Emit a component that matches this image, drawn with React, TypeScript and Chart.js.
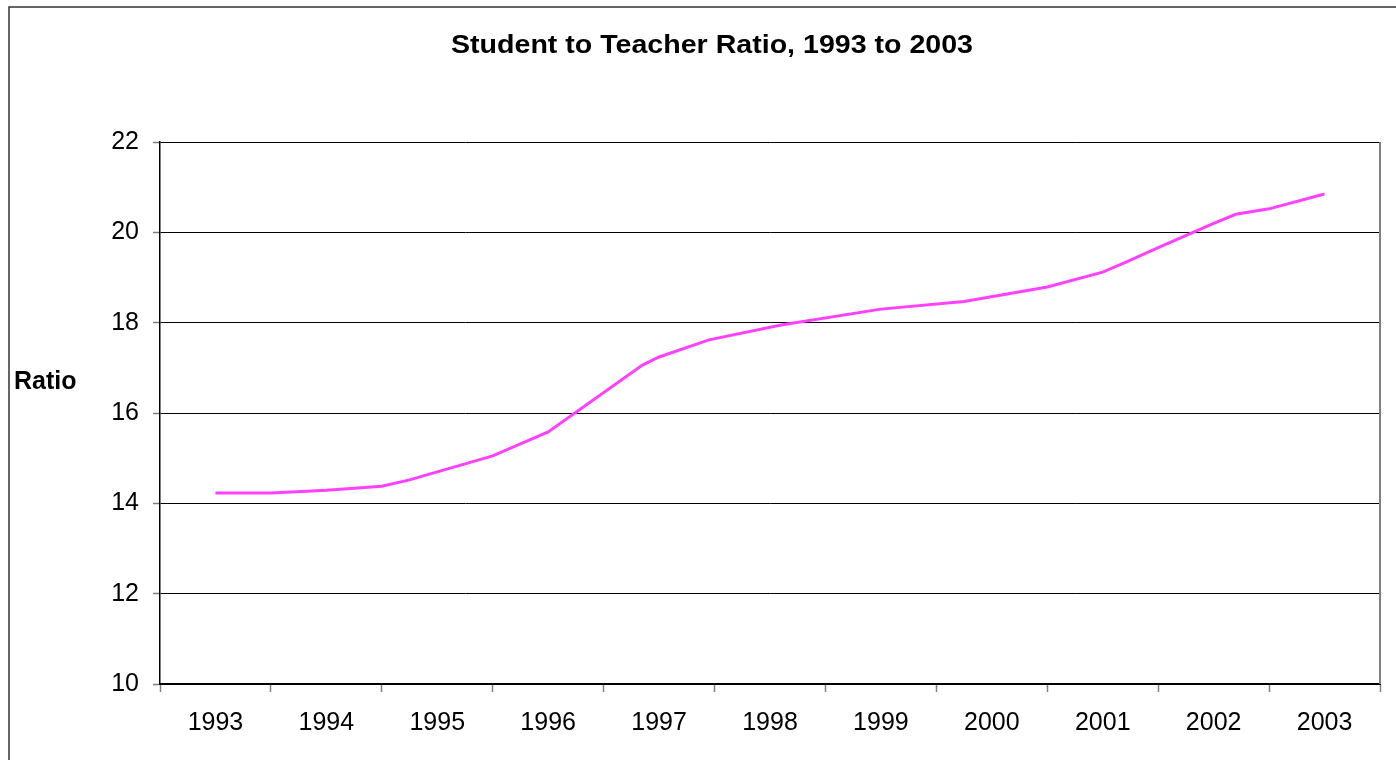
import React, { useEffect, useRef } from "react";
import { Chart, registerables } from "chart.js";

Chart.register(...registerables);

const titleText = "Student to Teacher Ratio, 1993 to 2003";
const yAxisTitle = "Ratio";
const yearLabels = [1993, 1994, 1995, 1996, 1997, 1998, 1999, 2000, 2001, 2002, 2003];
const pointYears = [
  1993.0, 1993.5, 1994.0, 1994.5, 1994.75, 1995.5, 1996.0, 1996.85, 1997.0, 1997.45,
  1998.1, 1999.0, 1999.75, 2000.5, 2001.0, 2001.2, 2001.5, 2002.0, 2002.2, 2002.5, 2003.0,
];
const ratioValues = [
  14.23, 14.23, 14.29, 14.38, 14.52, 15.05, 15.58, 17.06, 17.24, 17.62,
  17.95, 18.3, 18.47, 18.79, 19.12, 19.33, 19.66, 20.2, 20.4, 20.52, 20.85,
];
const yTicks = [10, 12, 14, 16, 18, 20, 22];

const FONT = "'Liberation Sans', Arial, sans-serif";

const decorPlugin = {
  id: "decor",
  beforeDraw(chart: any) {
    const ctx = chart.ctx;
    ctx.save();
    ctx.fillStyle = "#ffffff";
    ctx.fillRect(0, 0, chart.width, chart.height);
    ctx.strokeStyle = "#333333";
    ctx.lineWidth = 1.5;
    ctx.strokeRect(9, 7, chart.width + 20, chart.height + 20);
    ctx.restore();
  },
  afterDraw(chart: any) {
    const ctx = chart.ctx;
    const a = chart.chartArea;
    ctx.save();
    // plot area right border
    ctx.strokeStyle = "#808080";
    ctx.lineWidth = 2;
    ctx.beginPath();
    ctx.moveTo(a.right, a.top);
    ctx.lineTo(a.right, a.bottom);
    ctx.stroke();
    // title
    ctx.fillStyle = "#000000";
    ctx.font = `bold 25px ${FONT}`;
    ctx.textAlign = "center";
    ctx.textBaseline = "alphabetic";
    const w = ctx.measureText(titleText).width;
    ctx.save();
    ctx.translate(712, 53);
    ctx.scale(522 / w, 1);
    ctx.fillText(titleText, 0, 0);
    ctx.restore();
    // y axis title
    ctx.font = `bold 25px ${FONT}`;
    ctx.textAlign = "left";
    ctx.fillText(yAxisTitle, 14, 389);
    ctx.restore();
  },
};

export default function App() {
  const ref = useRef<HTMLCanvasElement | null>(null);
  useEffect(() => {
    if (!ref.current) return;
    const data = pointYears.map((x, i) => ({ x, y: ratioValues[i] }));
    const chart = new Chart(ref.current, {
      type: "line",
      data: {
        datasets: [
          {
            label: "Ratio",
            data,
            borderColor: "#FF40FF",
            backgroundColor: "#FF40FF",
            borderWidth: 3,
            pointRadius: 0,
            tension: 0,
          },
        ],
      },
      options: {
        animation: false,
        responsive: false,
        layout: { padding: { top: 142, right: 9, left: 0, bottom: 0 } },
        plugins: {
          legend: { display: false },
          tooltip: { enabled: false },
          title: { display: false },
        },
        scales: {
          x: {
            type: "linear",
            min: yearLabels[0] - 0.5,
            max: yearLabels[yearLabels.length - 1] + 0.5,
            afterBuildTicks: (scale: any) => {
              const t: any[] = [];
              for (let i = 0; i <= yearLabels.length * 2; i++) {
                t.push({ value: yearLabels[0] - 0.5 + i * 0.5 });
              }
              scale.ticks = t;
            },
            afterFit: (scale: any) => {
              scale.height = 76;
            },
            ticks: {
              autoSkip: false,
              maxRotation: 0,
              minRotation: 0,
              padding: 16,
              color: "#000000",
              font: { family: FONT, size: 25 },
              callback: (v: any) => {
                const n = Number(v);
                return yearLabels.includes(n) ? String(n) : "";
              },
            },
            grid: {
              drawOnChartArea: false,
              drawTicks: true,
              tickLength: 8,
              tickColor: (c: any) =>
                c.tick && Number.isInteger(c.tick.value) ? "rgba(0,0,0,0)" : "#808080",
              tickWidth: 1.5,
            },
            border: { color: "#000000", width: 2 },
          },
          y: {
            min: 10,
            max: 22,
            afterBuildTicks: (scale: any) => {
              scale.ticks = yTicks.map((v) => ({ value: v }));
            },
            afterFit: (scale: any) => {
              scale.width = 160;
            },
            ticks: {
              padding: 14,
              color: "#000000",
              font: { family: FONT, size: 25 },
            },
            grid: {
              color: "#000000",
              lineWidth: 1,
              drawTicks: true,
              tickLength: 7,
              tickColor: "#808080",
              tickWidth: 1.5,
            },
            border: { color: "#000000", width: 1.5 },
          },
        },
      },
      plugins: [decorPlugin],
    } as any);
    return () => chart.destroy();
  }, []);
  return (
    <div style={{ position: "absolute", left: 0, top: 0, width: 1396, height: 760 }}>
      <canvas ref={ref} width={1396} height={760} style={{ width: 1396, height: 760 }} />
    </div>
  );
}
